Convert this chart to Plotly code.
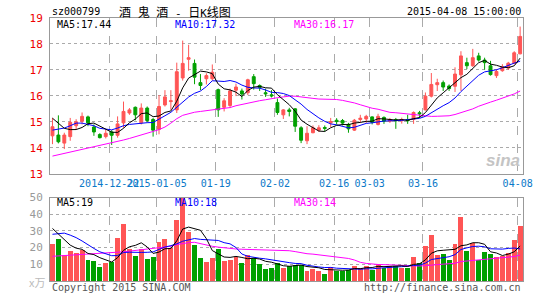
import pandas as pd
import plotly.graph_objects as go

# ---------------- data ----------------
idx = list(range(80))
tick_idx = [10, 18, 28, 38, 48, 54, 63, 79]
tick_text = ["2014-12-22", "2015-01-05", "01-19", "02-02", "02-16", "03-03", "03-16", "04-08"]

opens = [14.46, 14.49, 14.18, 14.43, 14.85, 15.02, 15.19, 14.80, 14.51, 14.43,
         14.61, 14.48, 14.96, 15.34, 15.56, 14.96, 15.53, 15.09, 14.71, 15.65,
         15.78, 15.46, 16.69, 17.41, 17.25, 16.51, 16.66, 16.66, 16.24, 15.56,
         15.63, 16.22, 16.19, 16.12, 16.74, 16.40, 16.12, 16.04, 15.74, 15.27,
         15.46, 15.50, 14.77, 14.27, 14.58, 14.68, 14.78, 14.96, 15.06, 15.05,
         14.90, 14.68, 15.09, 15.11, 15.19, 14.90, 15.17, 15.02, 15.09, 15.04,
         15.09, 15.09, 15.35, 15.46, 15.99, 16.43, 16.51, 16.38, 16.37, 16.81,
         17.28, 17.16, 17.54, 17.38, 17.16, 16.78, 16.97, 17.07, 17.25, 17.62]
highs = [15.15, 15.25, 14.58, 15.15, 15.10, 15.36, 15.24, 14.90, 14.56, 14.71,
         14.68, 15.21, 15.78, 15.53, 15.59, 15.71, 15.59, 15.15, 16.03, 16.22,
         16.22, 17.28, 18.13, 17.97, 17.40, 16.84, 16.87, 17.21, 16.28, 15.91,
         16.28, 16.47, 16.28, 16.66, 16.84, 16.44, 16.28, 16.22, 15.90, 15.49,
         15.54, 15.53, 14.83, 14.83, 14.86, 14.87, 14.86, 15.15, 15.14, 15.11,
         14.96, 15.11, 15.27, 15.27, 15.21, 15.31, 15.21, 15.15, 15.15, 15.16,
         15.27, 15.40, 15.42, 16.13, 16.88, 16.66, 16.59, 16.44, 17.10, 17.72,
         17.47, 17.81, 17.66, 17.47, 17.35, 17.03, 17.22, 17.31, 17.72, 18.67]
lows = [14.14, 14.17, 13.95, 14.27, 14.70, 14.90, 14.83, 14.46, 14.36, 14.36,
        14.11, 14.39, 14.77, 15.27, 15.06, 14.90, 14.98, 14.43, 14.52, 15.59,
        15.46, 15.34, 16.59, 16.97, 16.45, 16.22, 16.44, 16.59, 15.19, 15.40,
        15.53, 15.99, 15.86, 16.03, 16.24, 16.19, 15.96, 15.94, 15.27, 15.11,
        15.21, 14.61, 14.18, 14.14, 14.56, 14.61, 14.63, 14.80, 14.90, 14.86,
        14.58, 14.65, 14.96, 14.96, 14.90, 14.86, 14.92, 14.96, 14.73, 14.93,
        14.92, 14.92, 15.15, 15.44, 15.94, 16.19, 16.19, 16.19, 16.15, 16.19,
        17.03, 17.12, 17.32, 17.01, 16.78, 16.69, 16.93, 17.00, 17.22, 17.60]
closes = [14.81, 14.23, 14.49, 14.98, 15.00, 15.21, 14.96, 14.61, 14.39, 14.56,
          14.48, 14.92, 15.40, 15.46, 15.27, 15.53, 15.05, 14.68, 15.59, 15.96,
          15.81, 16.93, 17.25, 17.47, 16.72, 16.40, 16.78, 16.91, 15.46, 15.81,
          16.19, 16.34, 16.07, 16.62, 16.47, 16.32, 16.08, 16.00, 15.36, 15.46,
          15.40, 14.83, 14.29, 14.56, 14.77, 14.77, 14.75, 15.01, 15.01, 14.95,
          14.73, 15.06, 15.14, 15.21, 14.98, 15.21, 15.02, 15.09, 15.04, 15.08,
          15.04, 15.36, 15.31, 15.99, 16.44, 16.51, 16.34, 16.28, 16.84, 17.54,
          17.16, 17.47, 17.38, 17.28, 16.82, 16.94, 17.12, 17.26, 17.66, 18.29]
volumes = [22.2, 25.4, 15.6, 18.1, 17.1, 18.7, 13.0, 12.2, 8.9, 11.2,
           11.6, 26.0, 34.3, 19.5, 15.4, 19.3, 13.6, 14.8, 23.6, 25.4,
           20.1, 36.6, 50.0, 29.5, 21.7, 14.2, 11.6, 14.2, 19.7, 12.2,
           13.0, 14.6, 11.0, 15.9, 13.8, 10.6, 7.7, 8.3, 10.8, 8.3,
           9.1, 9.8, 9.8, 6.3, 7.5, 6.3, 4.7, 8.7, 6.3, 6.3,
           6.7, 9.3, 8.3, 9.3, 6.7, 10.4, 8.3, 9.3, 9.3, 8.3,
           8.3, 14.6, 11.0, 21.1, 28.1, 15.6, 16.3, 12.8, 22.2, 38.8,
           18.1, 22.8, 12.8, 17.5, 16.3, 14.6, 15.2, 16.9, 24.6, 33.5]

# moving-average values at the start of the window (need history before the chart)
ma5_head = [15.14, 14.95, 14.75, 14.70]
ma10_head = [14.68, 14.72, 14.76, 14.85, 14.95, 14.95, 14.90, 14.85, 14.75]
ma30_head = [13.68, 13.73, 13.78, 13.83, 13.88, 13.93, 13.98, 14.03, 14.08, 14.13,
             14.18, 14.24, 14.30, 14.36, 14.42, 14.49, 14.56, 14.63, 14.70, 14.80,
             14.95, 15.12, 15.25, 15.32, 15.37, 15.40, 15.43, 15.45, 15.47]
vma5_head = [31.5, 28.0, 24.5, 21.5]
vma10_head = [28.0, 28.5, 28.7, 27.5, 26.0, 24.0, 21.5, 19.5, 17.5]
vma30_head = [14.8, 15.0, 15.2, 15.5, 15.8, 16.0, 16.3, 16.5, 16.8, 16.9,
              17.1, 17.3, 17.5, 17.9, 18.3, 18.7, 19.2, 19.6, 20.0, 20.4,
              20.8, 21.8, 22.5, 23.0, 23.2, 22.3, 21.5, 20.8, 20.3]

price_ticks = [13, 14, 15, 16, 17, 18, 19]
vol_ticks = [10, 20, 30, 40, 50]
price_ma_labels = ["MA5:17.44", "MA10:17.32", "MA30:16.17"]
vol_ma_labels = ["MA5:19", "MA10:18", "MA30:14"]
title_code = "sz000799"
title_name = "酒 鬼 酒 - 日K线图"
title_time = "2015-04-08 15:00:00"

# ---------------- helpers ----------------
def moving(values, n, head):
    s = pd.Series(values, dtype=float).rolling(n).mean()
    s.iloc[:len(head)] = head
    return s.round(3).tolist()

ma5 = moving(closes, 5, ma5_head)
ma10 = moving(closes, 10, ma10_head)
ma30 = moving(closes, 30, ma30_head)
vma5 = moving(volumes, 5, vma5_head)
vma10 = moving(volumes, 10, vma10_head)
vma30 = moving(volumes, 30, vma30_head)

RED = "#ff5555"
GREEN = "#00a000"
BLUE = "#0000ff"
MAG = "#ff00ff"
GRID = "#aaaaaa"
FRAME = "#999999"
MONO = "DejaVu Sans Mono"
CJK = "Noto Sans CJK SC"

W, H = 545, 300
L, R, T, B = 50, 16, 18, 14
PW, PH = W - L - R, H - T - B


def px(xp):
    return (xp - L) / PW


def py(yp):
    return (H - B - yp) / PH


main_dom = [py(176.7), 1.0]
vol_dom = [0.0, py(201)]

vol_colors = [RED if c >= o else GREEN for o, c in zip(opens, closes)]
tickpos = [i - 2.5 / 6 for i in tick_idx]
xr = [-2.5 / 6, 79 + 2.9 / 6]

fig = go.Figure()
fig.add_trace(go.Candlestick(
    x=idx, open=opens, high=highs, low=lows, close=closes,
    increasing=dict(line=dict(color=RED, width=1), fillcolor=RED),
    decreasing=dict(line=dict(color=GREEN, width=1), fillcolor=GREEN),
    whiskerwidth=0, showlegend=False, hoverinfo="skip",
    xaxis="x", yaxis="y"))
for ys, col in [(ma30, MAG), (ma10, BLUE), (ma5, "#000000")]:
    fig.add_trace(go.Scatter(x=idx, y=ys, mode="lines", line=dict(color=col, width=1),
                             showlegend=False, hoverinfo="skip", xaxis="x", yaxis="y"))

fig.add_trace(go.Bar(x=idx, y=volumes, width=5 / 6, marker=dict(color=vol_colors, line=dict(width=0)),
                     showlegend=False, hoverinfo="skip", xaxis="x2", yaxis="y2"))
for ys, col in [(vma30, MAG), (vma10, BLUE), (vma5, "#000000")]:
    fig.add_trace(go.Scatter(x=idx, y=ys, mode="lines", line=dict(color=col, width=1),
                             showlegend=False, hoverinfo="skip", xaxis="x2", yaxis="y2"))

xcommon = dict(range=xr, tickmode="array", tickvals=tickpos, showgrid=True, griddash="dash",
               gridcolor=GRID, gridwidth=1, zeroline=False, showline=True, mirror=True,
               linecolor=FRAME, linewidth=1, ticks="", fixedrange=True)

fig.update_layout(
    width=W, height=H, margin=dict(l=L, r=R, t=T, b=B),
    paper_bgcolor="white", plot_bgcolor="white", bargap=0, boxgap=0.3,
    xaxis=dict(**xcommon, ticktext=tick_text, anchor="y", tickangle=0,
               tickfont=dict(family=MONO, size=10, color="#0a78c8"),
               rangeslider=dict(visible=False)),
    xaxis2=dict(**xcommon, ticktext=tick_text, anchor="y2", matches="x", showticklabels=False),
    yaxis=dict(domain=main_dom, range=[13, 19], tickvals=price_ticks, showgrid=True,
               griddash="dot", gridcolor=GRID, zeroline=False, showline=True, mirror=True,
               linecolor=FRAME, ticks="", ticklabelstandoff=4,
               tickfont=dict(family=MONO, size=11, color="#ee0000"), fixedrange=True),
    yaxis2=dict(domain=vol_dom, range=[0, 50], tickvals=vol_ticks, showgrid=True,
                griddash="dot", gridcolor=GRID, zeroline=False, showline=True, mirror=True,
                linecolor=FRAME, ticks="", ticklabelstandoff=4,
                tickfont=dict(family=MONO, size=11, color="#999999"), fixedrange=True),
)

ann = []


def text(t, xp, yp, color, size=10, anchor="left", family=MONO):
    ann.append(dict(text=t, x=px(xp), y=py(yp), xref="paper", yref="paper",
                    xanchor=anchor, yanchor="middle", showarrow=False,
                    font=dict(family=family, size=size, color=color)))


def half_width(ch):
    return ord(ch) < 0x2E80


# title: full-width glyphs at 12px, half-width glyphs (space, dash, K) in a monospace face
parts = []
for ch in title_name:
    if half_width(ch):
        c = "\u00a0" if ch == " " else ch
        parts.append('<span style="font-family:DejaVu Sans Mono;font-size:11px">' + c + "</span>")
    else:
        parts.append(ch)
title_html = "".join(parts)

text(title_code, 50, 11, "#000000")
text(title_html, 118, 11, "#000000", size=12, family=CJK)
text(title_time, 529, 11, "#000000", anchor="right")
for lab, xp, col in zip(price_ma_labels, [55, 175, 295], ["#000000", BLUE, MAG]):
    text(lab, xp, 24.5, col)
for lab, xp, col in zip(vol_ma_labels, [55, 175, 295], ["#000000", BLUE, MAG]):
    text(lab, xp, 206, col)
text("x万", 27, 287, "#bbbbbb", size=11, family=CJK)
text("Copyright 2015 SINA.COM", 50, 292.5, "#555555")
text("http://finance.sina.com.cn", 529, 292.5, "#555555", anchor="right")
text("<b><i>sina</i></b>", 528, 163, "#c4c4c4", size=17, anchor="right", family="Arial")
fig.update_layout(annotations=ann)

fig.write_html("out.html")
